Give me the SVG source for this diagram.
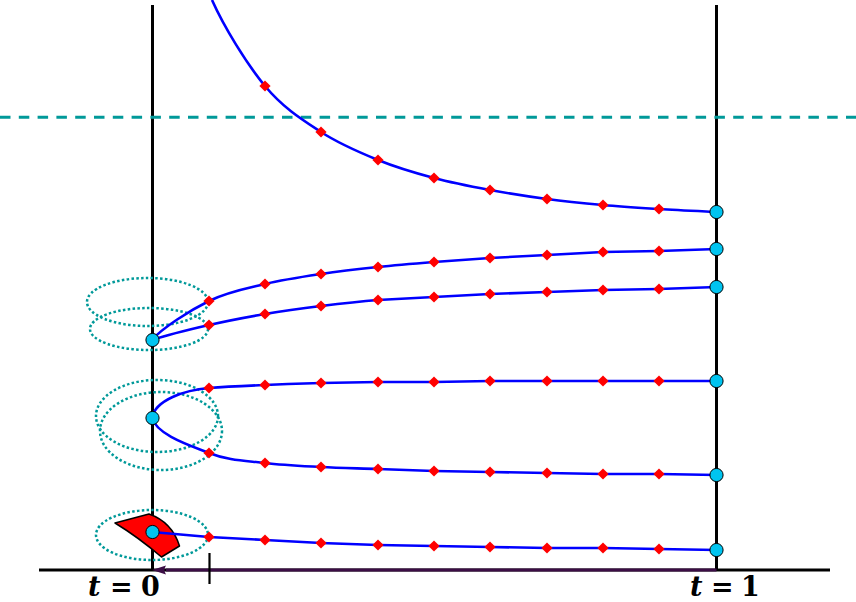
<svg xmlns="http://www.w3.org/2000/svg" xmlns:xlink="http://www.w3.org/1999/xlink" width="856" height="602" viewBox="0 0 856 602">
<style>
.axis{stroke:#000;stroke-width:3;fill:none}
.curve{stroke:#0000ff;stroke-width:2.6;fill:none;stroke-linejoin:round}
.dot{stroke:#009999;stroke-width:2.5;fill:none;stroke-dasharray:2.5 2.3}
.node{fill:#00c4f0;stroke:#000;stroke-width:1}
.dia{fill:#ff0000}
.lbl{font-family:"DejaVu Serif",serif;font-weight:bold;font-size:27px;fill:#000}
</style>
<defs>
<polygon id="d" class="dia" points="0,-5.6 5.6,0 0,5.6 -5.6,0"/>
<marker id="arr" markerUnits="userSpaceOnUse" markerWidth="16" markerHeight="12" viewBox="0 -6 16 12" refX="0" refY="0" orient="auto-start-reverse">
<path d="M0,0 L14,-4.6 Q11,0 14,4.6 Z" fill="#3b0d45"/>
</marker>
</defs>
<rect width="856" height="602" fill="#fff"/>
<g id="frame">
<line class="axis" x1="152.5" y1="5" x2="152.5" y2="570"/>
<line class="axis" x1="716.5" y1="5" x2="716.5" y2="570"/>
<line class="axis" x1="39" y1="570" x2="830" y2="570"/>
<line x1="0" y1="117.3" x2="856" y2="117.3" stroke="#009999" stroke-width="3" stroke-dasharray="10.5 8.3"/>
</g>
<g id="ellipses">
<ellipse class="dot" cx="147.5" cy="302" rx="60.5" ry="24"/>
<ellipse class="dot" cx="149" cy="329" rx="59" ry="21"/>
<ellipse class="dot" cx="157" cy="416" rx="61" ry="36"/>
<ellipse class="dot" cx="161" cy="431" rx="61" ry="39"/>
<ellipse class="dot" cx="152" cy="535" rx="56" ry="25"/>
</g>
<g id="region">
<path d="M115,523 L149,514 Q172,522 179.5,546 L161.5,557 Q138,537 115,523 Z" fill="#ff0000" stroke="#000" stroke-width="1.5" stroke-linejoin="round"/>
</g>
<g id="connectors">
<path class="curve" d="M212,0 C224,27 246.8,64 265,86 C283.2,108 302.2,119.7 321,132 C339.8,144.3 359.2,152.3 378,160 C396.8,167.7 415.3,173 434,178 C452.7,183 471.2,186.5 490,190 C508.8,193.5 528.2,196.5 547,199 C565.8,201.5 584.3,203.3 603,205 C621.7,206.7 640,207.8 659,209 C678,210.2 707.3,211.5 717,212"/>
<path class="curve" d="M152,340 C162,328 190.2,310.3 209,301 C227.8,291.7 246.3,288.5 265,284 C283.7,279.5 302.2,276.8 321,274 C339.8,271.2 359.2,269 378,267 C396.8,265 415.3,263.5 434,262 L490,258 L547,255 L603,252 L659,251 L717,249"/>
<path class="curve" d="M152,340 C170,334 190.2,329.3 209,325 C227.8,320.7 246.3,317.2 265,314 C283.7,310.8 302.2,308.3 321,306 C339.8,303.7 359.2,301.5 378,300 L434,297 L490,294 L547,292 L603,290 L659,289 L717,287"/>
<path class="curve" d="M152,418 C155,400 185,390 209,388 C227.7,386.5 246.3,385.8 265,385 C283.7,384.2 302.2,383.5 321,383 L378,382 L434,382 L490,381 L547,381 L603,381 L659,381 L717,381"/>
<path class="curve" d="M152,418 C157,435 190.2,445.5 209,453 C227.8,460.5 246.3,460.7 265,463 C283.7,465.3 302.2,466 321,467 C339.8,468 359.2,468.3 378,469 L434,471 L490,472 L547,473 L603,474 L659,474 L717,475"/>
<path class="curve" d="M152,532 L209,537 L265,540 L321,543 L378,545 L434,546 L490,547 L547,548 L603,548 L659,549 L717,550"/>
<line x1="716.5" y1="570" x2="166" y2="570" stroke="#3b0d45" stroke-width="3"/>
<path d="M152,570 L166,565.4 Q163,570 166,574.6 Z" fill="#3b0d45"/>
<line x1="209.5" y1="553" x2="209.5" y2="584" stroke="#000" stroke-width="2.2"/>
</g>
<g id="diamonds">
<use xlink:href="#d" x="265" y="86"/><use xlink:href="#d" x="321" y="132"/><use xlink:href="#d" x="378" y="160"/><use xlink:href="#d" x="434" y="178"/><use xlink:href="#d" x="490" y="190"/><use xlink:href="#d" x="547" y="199"/><use xlink:href="#d" x="603" y="205"/><use xlink:href="#d" x="659" y="209"/>
<use xlink:href="#d" x="209" y="301"/><use xlink:href="#d" x="265" y="284"/><use xlink:href="#d" x="321" y="274"/><use xlink:href="#d" x="378" y="267"/><use xlink:href="#d" x="434" y="262"/><use xlink:href="#d" x="490" y="258"/><use xlink:href="#d" x="547" y="255"/><use xlink:href="#d" x="603" y="252"/><use xlink:href="#d" x="659" y="251"/>
<use xlink:href="#d" x="209" y="325"/><use xlink:href="#d" x="265" y="314"/><use xlink:href="#d" x="321" y="306"/><use xlink:href="#d" x="378" y="300"/><use xlink:href="#d" x="434" y="297"/><use xlink:href="#d" x="490" y="294"/><use xlink:href="#d" x="547" y="292"/><use xlink:href="#d" x="603" y="290"/><use xlink:href="#d" x="659" y="289"/>
<use xlink:href="#d" x="209" y="388"/><use xlink:href="#d" x="265" y="385"/><use xlink:href="#d" x="321" y="383"/><use xlink:href="#d" x="378" y="382"/><use xlink:href="#d" x="434" y="382"/><use xlink:href="#d" x="490" y="381"/><use xlink:href="#d" x="547" y="381"/><use xlink:href="#d" x="603" y="381"/><use xlink:href="#d" x="659" y="381"/>
<use xlink:href="#d" x="209" y="453"/><use xlink:href="#d" x="265" y="463"/><use xlink:href="#d" x="321" y="467"/><use xlink:href="#d" x="378" y="469"/><use xlink:href="#d" x="434" y="471"/><use xlink:href="#d" x="490" y="472"/><use xlink:href="#d" x="547" y="473"/><use xlink:href="#d" x="603" y="474"/><use xlink:href="#d" x="659" y="474"/>
<use xlink:href="#d" x="209" y="537"/><use xlink:href="#d" x="265" y="540"/><use xlink:href="#d" x="321" y="543"/><use xlink:href="#d" x="378" y="545"/><use xlink:href="#d" x="434" y="546"/><use xlink:href="#d" x="490" y="547"/><use xlink:href="#d" x="547" y="548"/><use xlink:href="#d" x="603" y="548"/><use xlink:href="#d" x="659" y="549"/>
</g>
<g id="node-L1"><circle class="node" cx="152.5" cy="340" r="6.6"/></g>
<g id="node-L2"><circle class="node" cx="152.5" cy="418" r="6.6"/></g>
<g id="node-L3"><circle class="node" cx="152.5" cy="532" r="6.6"/></g>
<g id="node-R1"><circle class="node" cx="716.5" cy="212" r="6.6"/></g>
<g id="node-R2"><circle class="node" cx="716.5" cy="249" r="6.6"/></g>
<g id="node-R3"><circle class="node" cx="716.5" cy="287" r="6.6"/></g>
<g id="node-R4"><circle class="node" cx="716.5" cy="381" r="6.6"/></g>
<g id="node-R5"><circle class="node" cx="716.5" cy="475" r="6.6"/></g>
<g id="node-R6"><circle class="node" cx="716.5" cy="550" r="6.6"/></g>
<g id="labels">
<text class="lbl" y="595.5"><tspan x="88" font-style="italic">t</tspan><tspan x="110">=</tspan><tspan x="141">0</tspan></text>
<text class="lbl" y="595.5"><tspan x="690" font-style="italic">t</tspan><tspan x="711">=</tspan><tspan x="741">1</tspan></text>
</g>
</svg>
